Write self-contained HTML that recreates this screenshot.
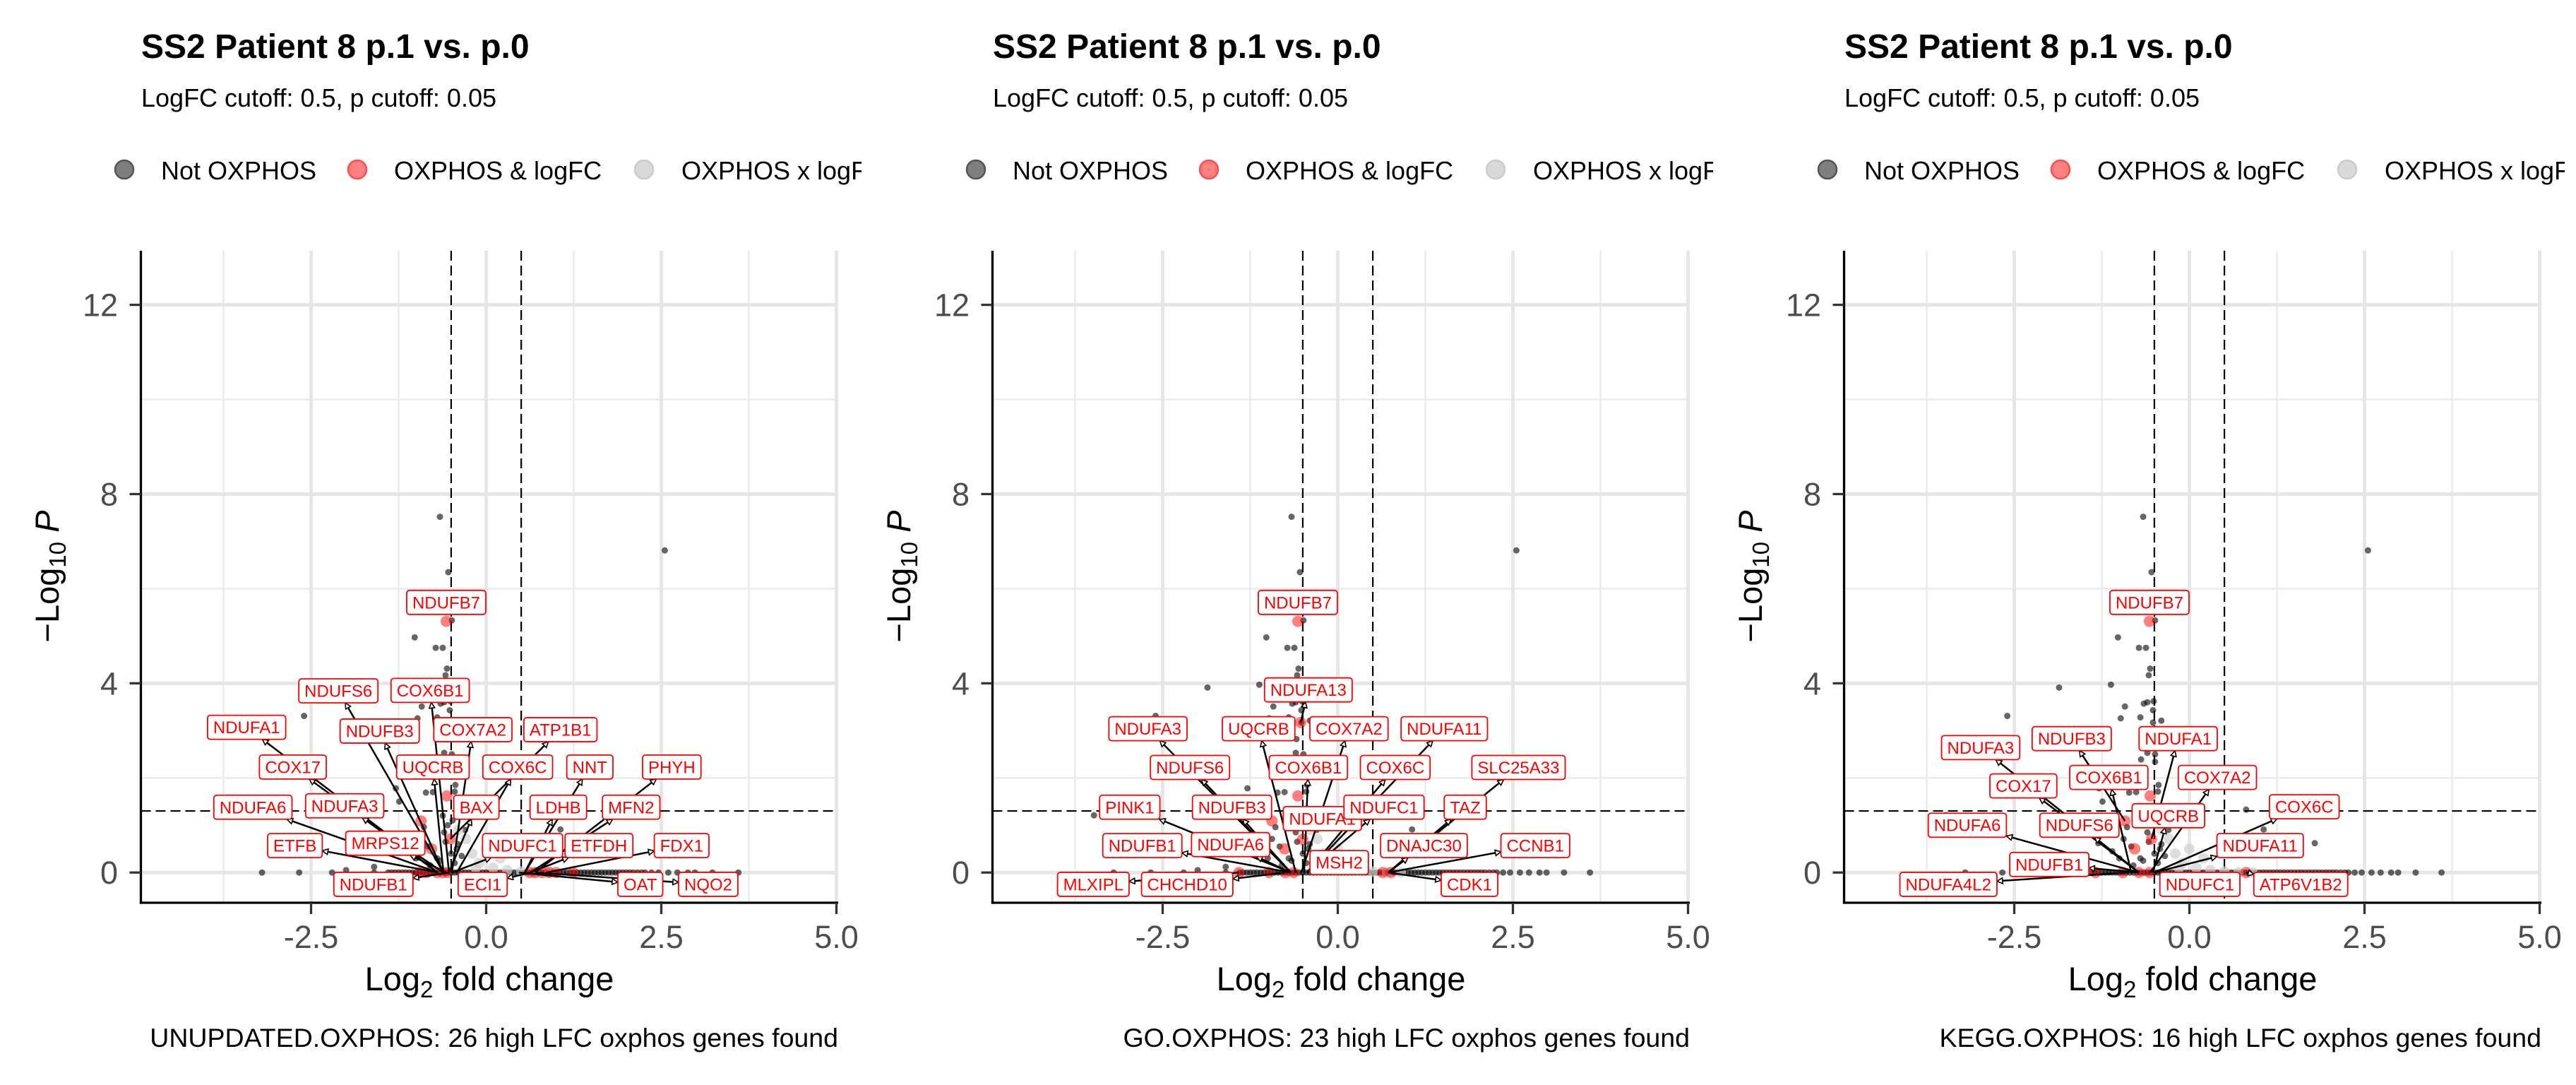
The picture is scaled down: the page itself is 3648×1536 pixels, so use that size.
<!DOCTYPE html>
<html><head><meta charset="utf-8"><style>
html,body{margin:0;padding:0;background:#fff}
svg{display:block;font-family:"Liberation Sans",Arial,sans-serif}
</style></head><body>
<svg id="fig" width="3648" height="1536" viewBox="0 0 3648 1536" xmlns="http://www.w3.org/2000/svg">
<rect width="3648" height="1536" fill="#fff"/>
<defs>
<marker id="ah" viewBox="0 0 10 10" refX="9" refY="5" markerWidth="10" markerHeight="10" markerUnits="userSpaceOnUse" orient="auto">
<path d="M1,1 L9,5 L1,9 Z" fill="#fff" stroke="#000" stroke-width="1.6"/>
</marker>
</defs>
</svg>
<script>
// ---- shared data ----
const bgX = [-0.66,2.55,-0.54,-0.49,-1.02,-0.72,-0.62,-0.56,-0.58,-1.86,-1.12,-0.65,-0.6,-0.51,-0.92,-0.52,-2.6,-0.98,-0.7,-0.4,-0.52,-0.59,-0.49,-0.6,-0.49,-0.69,-0.44,-0.45,-0.86,-0.76,-1.29,-1.24,0.81,1.06,1.79,-1.3,-0.89,-0.94,-3.48,-0.5,-0.45,-0.7,-0.8,-0.6,-0.4,-1.0,-1.1,-0.35,-0.55,-0.3,-1.6,-2.0,-0.62,-0.48,-0.83,-0.66,-0.42,-0.58];
const bgY = [7.52,6.81,6.35,5.33,4.97,4.75,4.75,4.31,4.17,3.91,3.97,3.57,3.6,3.62,3.51,3.43,3.31,3.26,3.28,3.21,3.17,2.82,2.5,2.53,2.34,2.39,1.85,1.71,1.69,1.7,1.78,1.5,1.33,0.91,0.62,0.62,0.96,0.71,1.21,0.4,0.2,0.3,0.15,0.85,0.6,0.3,0.45,0.35,1.0,0.9,0.12,0.05,1.2,1.1,0.55,0.25,0.5,0.65];
const zeroX = [-3.2,-2.67,-2.2,-1.6,-1.4,-1.35,-1.3,-1.25,-1.2,-1.15,-1.1,-1.05,-1.0,-0.95,-0.9,-0.85,-0.8,-0.75,-0.7,-0.65,-0.6,-0.55,-0.5,-0.45,-0.4,-0.35,-0.3,-0.25,-0.2,-0.15,-0.1,-0.05,0,0.05,0.1,0.15,0.2,0.25,0.3,0.35,0.4,0.45,0.5,0.55,0.6,0.65,0.7,0.75,0.8,0.85,0.9,0.95,1.0,1.05,1.1,1.15,1.2,1.25,1.3,1.35,1.4,1.45,1.5,1.55,1.6,1.65,1.7,1.75,1.8,1.85,1.9,1.95,2.0,2.05,2.1,2.16,2.22,2.27,2.36,2.46,2.6,2.73,2.88,2.98,3.23,3.6];
const greyX = [-0.29,-0.2,-0.1,0.1,0.3,0.5,0.7,0.9,-0.4,0.0,-0.15,0.2];
const greyY = [0.71,0.4,0.2,0.1,0.05,0.02,0,0,0.9,0.5,0.1,0.3];
const xTicks = [-2.5,0,2.5,5];
const xTickLabels = ["-2.5","0.0","2.5","5.0"];
const xMinor = [-3.75,-1.25,1.25,3.75];
const yTicks = [0,4,8,12];
const yTickLabels = ["0","4","8","12"];
const yMinor = [2,6,10];
const cutX = [-0.5,0.5];
const cutY = 1.301;
const captions = ["UNUPDATED.OXPHOS: 26 high LFC oxphos genes found","GO.OXPHOS: 23 high LFC oxphos genes found","KEGG.OXPHOS: 16 high LFC oxphos genes found"];
// ---- per panel red points ----
const red1X = [-0.57,-0.56,-0.93,-0.51,-0.78,-0.95,-0.85,-0.7,-0.62,-0.55,0.62,0.7,0.8,0.9,1.0,1.24];
const red1Y = [5.31,1.62,1.09,0.71,0.5,0,0,0,0,0,0,0,0,0,0,0];
const red2X = [-0.57,-0.53,-0.57,-0.94,-0.5,-0.76,-1.41,-0.98,-0.75,-0.63,0.64,0.76];
const red2Y = [5.31,3.17,1.62,1.09,0.7,0.5,0,0,0,0,0,0];
const red3X = [-0.57,-0.56,-0.92,-0.54,-0.78,-1.34,-0.95,-0.72,-0.57,0.81];
const red3Y = [5.31,1.62,1.09,0.71,0.5,0,0,0,0,0];
// ---- per panel labels: name, label centre (x,y), target (x,y) ----
const lab1N = ["NDUFB7","NDUFS6","COX6B1","NDUFA1","NDUFB3","COX7A2","ATP1B1","COX17","UQCRB","COX6C","NNT","PHYH","NDUFA6","NDUFA3","BAX","LDHB","MFN2","ETFB","MRPS12","NDUFC1","ETFDH","FDX1","NDUFB1","ECI1","OAT","NQO2"];
const lab1X = [-0.57,-2.11,-0.80,-3.42,-1.52,-0.19,1.06,-2.76,-0.76,0.45,1.48,2.65,-3.33,-2.02,-0.14,1.03,2.07,-2.73,-1.44,0.52,1.61,2.79,-1.61,-0.05,2.2,3.17];
const lab1Y = [5.71,3.84,3.85,3.07,2.99,3.02,3.02,2.23,2.23,2.23,2.23,2.23,1.38,1.41,1.38,1.38,1.38,0.57,0.62,0.57,0.57,0.57,-0.25,-0.25,-0.25,-0.25];
const tgt1X = [-0.57,-0.61,-0.53,-0.69,-0.61,-0.49,-0.51,-0.69,-0.61,-0.42,0.55,0.70,-0.69,-0.61,-0.53,0.55,0.63,-0.69,-0.57,-0.49,0.63,0.86,-0.53,0.63,0.47,0.70];
const tgt1Y = [5.31,0,0,0,0,0,0.71,0,0,0,0,0,0,0,0,0,0,0,0,0,0,0,0,0,0,0];
const lab2N = ["NDUFB7","NDUFA13","NDUFA3","UQCRB","COX7A2","NDUFA11","NDUFS6","COX6B1","COX6C","SLC25A33","PINK1","NDUFB3","NDUFA1","NDUFC1","TAZ","NDUFB1","NDUFA6","DNAJC30","CCNB1","MSH2","MLXIPL","CHCHD10","CDK1"];
const lab2X = [-0.57,-0.42,-2.71,-1.13,0.16,1.52,-2.11,-0.42,0.82,2.58,-2.97,-1.51,-0.22,0.66,1.82,-2.79,-1.53,1.23,2.82,0.02,-3.49,-2.15,1.88];
const lab2Y = [5.71,3.86,3.04,3.04,3.04,3.04,2.22,2.22,2.22,2.22,1.38,1.38,1.14,1.38,1.38,0.57,0.59,0.57,0.57,0.21,-0.25,-0.25,-0.25];
const tgt2X = [-0.57,-0.53,-0.67,-0.6,-0.52,-0.44,-0.67,-0.48,-0.44,0.72,-0.67,-0.67,-0.5,-0.44,0.72,-0.67,-0.67,0.72,0.72,-0.44,-1.41,-0.75,0.72];
const tgt2Y = [5.31,3.17,0,0,0,0,0,0,0,0,0,0,0.7,0,0,0,0,0,0,0,0,0,0];
const lab3N = ["NDUFB7","NDUFB3","NDUFA1","NDUFA3","COX6B1","COX7A2","COX17","COX6C","UQCRB","NDUFA6","NDUFS6","NDUFA11","NDUFB1","NDUFA4L2","NDUFC1","ATP6V1B2"];
const lab3X = [-0.57,-1.68,-0.16,-2.98,-1.15,0.4,-2.37,1.64,-0.3,-3.17,-1.57,1.01,-2.0,-3.44,0.15,1.59];
const lab3Y = [5.71,2.83,2.83,2.64,2.01,2.01,1.83,1.39,1.2,1.0,1.0,0.57,0.17,-0.25,-0.25,-0.25];
const tgt3X = [-0.57,-0.92,-0.54,-0.72,-0.83,-0.56,-0.72,-0.5,-0.52,-0.72,-0.72,-0.5,-0.72,-0.87,-0.5,0.81];
const tgt3Y = [5.31,1.09,0.71,0,0,0,0,0,0,0,0,0,0,0,0,0];

const NS = "http://www.w3.org/2000/svg";
const svg = document.getElementById('fig');
function mk(tag, attrs, parent){const e=document.createElementNS(NS,tag);for(const k in attrs)e.setAttribute(k,attrs[k]);(parent||svg).appendChild(e);return e;}

const panels = [
 {rx:red1X, ry:red1Y, ln:lab1N, lx:lab1X, ly:lab1Y, tx:tgt1X, ty:tgt1Y},
 {rx:red2X, ry:red2Y, ln:lab2N, lx:lab2X, ly:lab2Y, tx:tgt2X, ty:tgt2Y},
 {rx:red3X, ry:red3Y, ln:lab3N, lx:lab3X, ly:lab3Y, tx:tgt3X, ty:tgt3Y}
];
const L=199.5, R=1186, T=355, B=1278;

panels.forEach((P,i)=>{
 const ox = i*1206;
 const sx = v => ox + 688.5 + v*99.2;
 const sy = v => 1235.2 - v*66.97;
 const g = mk('g',{});
 
 
 const t = mk('text',{x:ox+200,y:82,'font-size':48,'font-weight':'bold',fill:'#000'},g);
 t.textContent='SS2 Patient 8 p.1 vs. p.0';
 
 
 const st = mk('text',{x:ox+200,y:151,'font-size':36,fill:'#000'},g);
 st.textContent='LogFC cutoff: 0.5, p cutoff: 0.05';
 
 
 const cp = mk('clipPath',{id:'lc'+i},svg); mk('rect',{x:ox,y:190,width:1220,height:100},cp);
 const lg = mk('g',{'clip-path':'url(#lc'+i+')'},g);
 
 
 const legs=[['Not OXPHOS','#7f7f7f','#555',176,228],['OXPHOS & logFC','#ff8080','#ff4d4d',506,558],['OXPHOS x logFC','#d9d9d9','#cccccc',912,965]];
 legs.forEach(l=>{
  const le = mk('g',{},lg);
  
  
  mk('circle',{cx:ox+l[3],cy:240,r:13,fill:l[1],stroke:l[2],'stroke-width':2.5},le);
  const tx=mk('text',{x:ox+l[4],y:254,'font-size':36,fill:'#000'},le); tx.textContent=l[0];
 });
 const gr = mk('g',{},g);
 
 
 xMinor.forEach(v=>mk('line',{x1:sx(v),x2:sx(v),y1:T,y2:B,stroke:'#ebebeb','stroke-width':2.5},gr));
 yMinor.forEach(v=>mk('line',{x1:ox+L,x2:ox+R,y1:sy(v),y2:sy(v),stroke:'#ebebeb','stroke-width':2.5},gr));
 xTicks.forEach(v=>mk('line',{x1:sx(v),x2:sx(v),y1:T,y2:B,stroke:'#e6e6e6','stroke-width':5},gr));
 yTicks.forEach(v=>mk('line',{x1:ox+L,x2:ox+R,y1:sy(v),y2:sy(v),stroke:'#e6e6e6','stroke-width':5},gr));
 cutX.forEach(v=>{const l=mk('line',{x1:sx(v),x2:sx(v),y1:T,y2:B,stroke:'#000','stroke-width':2.2,'stroke-dasharray':'14 7'},g);
  });
 const hl=mk('line',{x1:ox+L,x2:ox+R,y1:sy(cutY),y2:sy(cutY),stroke:'#000','stroke-width':2.2,'stroke-dasharray':'14 7'},g);
 
 const pc = mk('clipPath',{id:'pc'+i},svg); mk('rect',{x:ox+L,y:T,width:R-L+8,height:B-T},pc);
 const pts = mk('g',{'clip-path':'url(#pc'+i+')'},g);
 
 
 zeroX.forEach(v=>{const c=mk('circle',{cx:sx(v),cy:sy(0),r:4.5,fill:'#000','fill-opacity':0.6},pts);
  });
 bgX.forEach((v,k)=>{const c=mk('circle',{cx:sx(v),cy:sy(bgY[k]),r:4.5,fill:'#000','fill-opacity':0.6},pts);
  });
 greyX.forEach((v,k)=>{const c=mk('circle',{cx:sx(v),cy:sy(greyY[k]),r:7.5,fill:'#cfcfcf','fill-opacity':0.7},pts);
  });
 P.rx.forEach((v,k)=>{const c=mk('circle',{cx:sx(v),cy:sy(P.ry[k]),r:8,fill:'#ff0000','fill-opacity':0.5},pts);
  });
 const lbl = mk('g',{},g);
 
 
 const boxes=[];
 P.ln.forEach((n,k)=>{
  const cx=sx(P.lx[k]), cy=sy(P.ly[k]);
  const lg2=mk('g',{},lbl);
  
  
  const r=mk('rect',{x:0,y:cy-17,width:10,height:34,rx:4,fill:'#fff',stroke:'#ff0000','stroke-width':1.8},lg2);
  const tx=mk('text',{x:cx,y:cy+8.5,'font-size':24,fill:'#ff0000','text-anchor':'middle'},lg2);
  tx.textContent=n;
  let w=tx.getComputedTextLength()+16;
  r.setAttribute('x',cx-w/2); r.setAttribute('width',w);
  boxes.push({cx,cy,w});
 });
 const ag = mk('g',{},g);
 
 
 lbl.parentNode.insertBefore(ag,lbl);
 P.ln.forEach((n,k)=>{
  const b=boxes[k]; const x0=sx(P.tx[k]), y0=sy(P.ty[k]);
  const dx=b.cx-x0, dy=b.cy-y0;
  const hw=b.w/2, hh=17;
  if(Math.abs(dx)<=hw+8 && Math.abs(dy)<=hh+14) return;
  let s = Math.min(dx!==0?hw/Math.abs(dx):1e9, dy!==0?hh/Math.abs(dy):1e9);
  const ex=b.cx-dx*s, ey=b.cy-dy*s;
  const a=mk('line',{x1:x0,y1:y0,x2:ex,y2:ey,stroke:'#000','stroke-width':2.5,'marker-end':'url(#ah)'},ag);
  
  
 });
 const ax = mk('g',{},g);
 
 
 mk('line',{x1:ox+L,x2:ox+L,y1:T,y2:B+1.6,stroke:'#000','stroke-width':3.3},ax);
 mk('line',{x1:ox+L-1.6,x2:ox+R+1,y1:B,y2:B,stroke:'#000','stroke-width':3.3},ax);
 xTicks.forEach((v,k)=>{
  mk('line',{x1:sx(v),x2:sx(v),y1:B,y2:B+16,stroke:'#333','stroke-width':3.3},ax);
  const t=mk('text',{x:sx(v),y:1342,'font-size':45,fill:'#4d4d4d','text-anchor':'middle'},ax);
  t.textContent=xTickLabels[k];
  
 });
 yTicks.forEach((v,k)=>{
  mk('line',{x1:ox+L-16,x2:ox+L,y1:sy(v),y2:sy(v),stroke:'#333','stroke-width':3.3},ax);
  const t=mk('text',{x:ox+167,y:sy(v)+16,'font-size':45,fill:'#4d4d4d','text-anchor':'end'},ax);
  t.textContent=yTickLabels[k];
  
 });
 const xt=mk('text',{x:ox+693,y:1402,'font-size':47,fill:'#000','text-anchor':'middle'},g);
 
 xt.innerHTML='Log<tspan font-size="33" dy="10">2</tspan><tspan dy="-10"> fold change</tspan>';
 const yt=mk('text',{x:ox+83,y:816,'font-size':47,fill:'#000','text-anchor':'middle',transform:'rotate(-90 '+(ox+83)+' 816)'},g);
 
 yt.innerHTML='\u2212Log<tspan font-size="33" dy="10">10</tspan><tspan dy="-10"> </tspan><tspan font-style="italic">P</tspan>';
 const cap=mk('text',{x:ox+1187,y:1482,'font-size':37.5,fill:'#000','text-anchor':'end'},g);
 cap.textContent=captions[i];
 
});
</script>
</body></html>
